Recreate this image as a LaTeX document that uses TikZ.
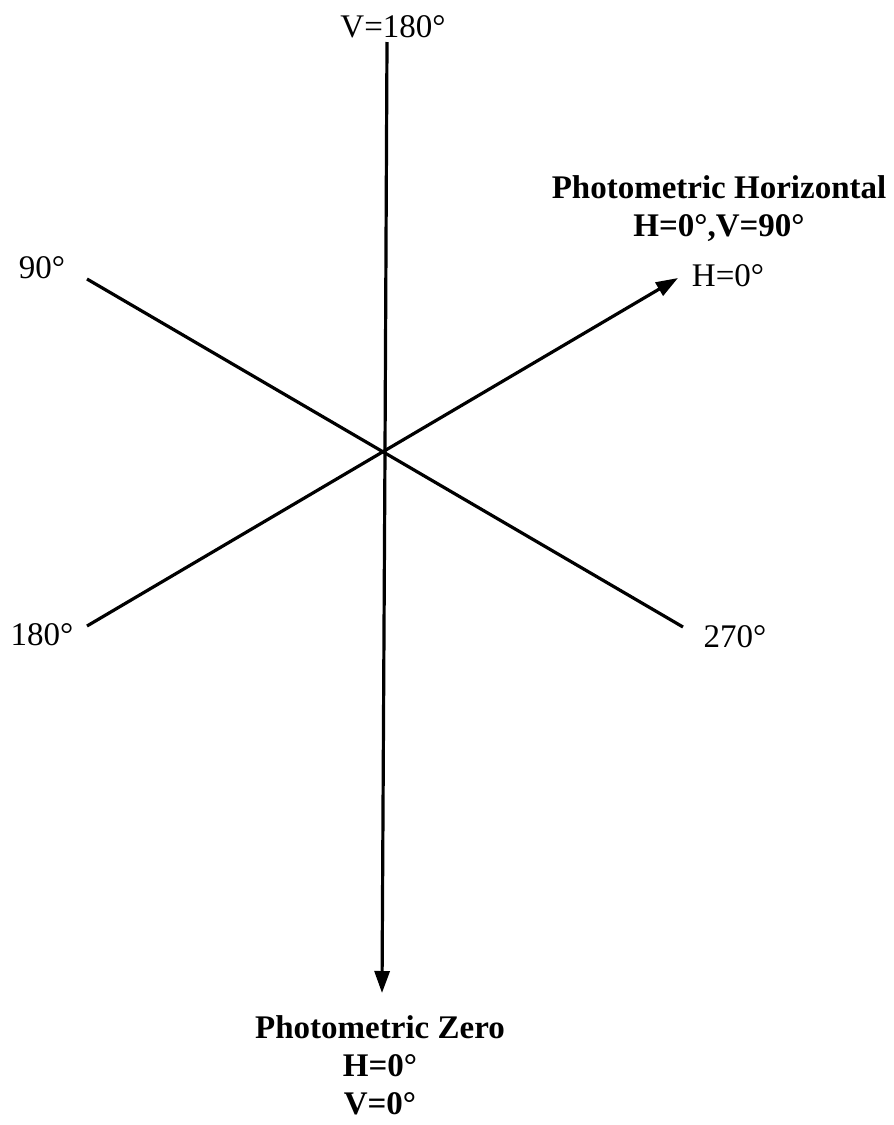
\documentclass[tikz,border=0pt]{standalone}
\usepackage{fontspec}
\setmainfont{Liberation Serif}
\usetikzlibrary{arrows.meta}
\begin{document}
\begin{tikzpicture}[x=1pt,y=-1pt,
		axis/.style={line width=3.2pt},
		tip/.style={-{Triangle[length=22pt,width=15pt]}},
		lbl/.style={font=\fontsize{33}{37}\selectfont,inner sep=0pt},
		blbl/.style={font=\fontsize{33}{38}\selectfont\bfseries,inner sep=0pt,align=center}]
		\useasboundingbox (0,0) rectangle (894,1125);
		\coordinate (o) at (385,451);
		\coordinate (top) at (387,42);
		\coordinate (bot) at (382,993);
		\coordinate (ul) at (87,279);
		\coordinate (lr) at (683,627);
		\coordinate (ll) at (87,626);
		\coordinate (ur) at (678,278);

		\draw[axis] (top) -- (o);
		\draw[axis,tip] (o) -- (bot);
		\draw[axis] (ul) -- (lr);
		\draw[axis,tip] (ll) -- (ur);

		\node[lbl] (v180) at (393,27) {V=180°};
		\node[lbl] (h90) at (42,268) {90°};
		\node[lbl] (h180) at (42,635) {180°};
		\node[lbl] (h270) at (735,637) {270°};
		\node[lbl] (h0) at (728,276) {H=0°};
		\node[blbl] (horiz) at (719,209) {Photometric Horizontal\\H=0°,V=90°};
		\node[blbl] (zero) at (380,1065) {Photometric Zero\\H=0°\\V=0°};
	\end{tikzpicture}
\end{document}
